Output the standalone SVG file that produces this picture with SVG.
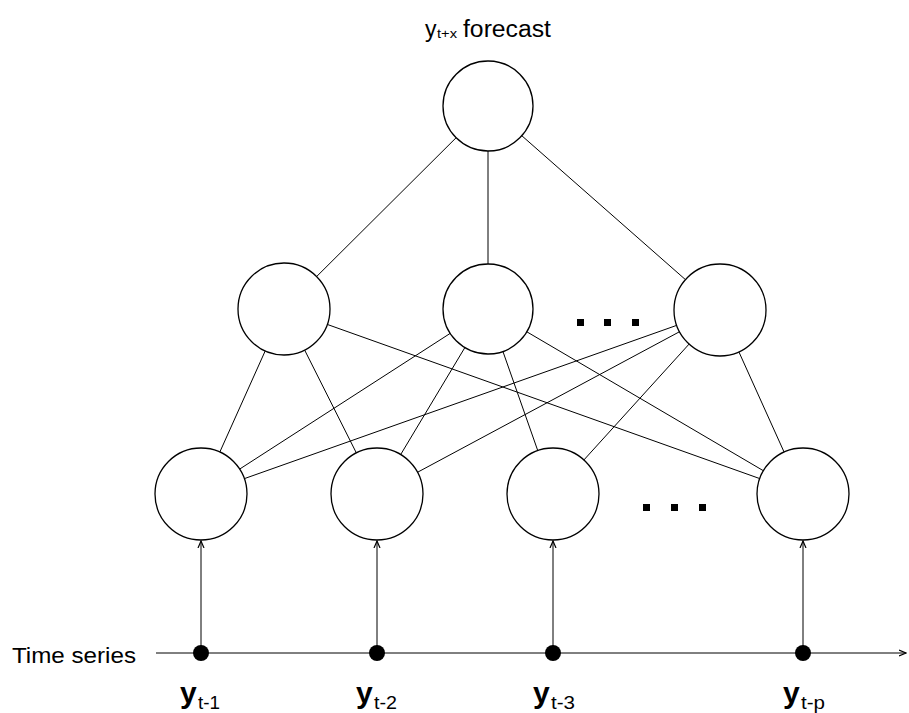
<svg xmlns="http://www.w3.org/2000/svg" width="909" height="713" viewBox="0 0 909 713">
  <style>
    .node { fill: #ffffff; stroke: #000000; stroke-width: 1.3; }
    .edge { stroke: #000000; stroke-width: 1; fill: none; }
    .txt { font-family: "Liberation Sans", Arial, sans-serif; fill: #000000; }
    .dot { fill: #000000; }
  </style>
  <defs>
    <marker id="tip" viewBox="0 0 8 10" refX="7" refY="5" markerWidth="8" markerHeight="10" markerUnits="userSpaceOnUse" orient="auto">
      <path d="M0,2 L7,5 L0,8" fill="none" stroke="#000" stroke-width="1.2"/>
    </marker>
  </defs>
  <rect width="909" height="713" fill="#ffffff"/>

  <!-- connectors: center-to-center lines, hidden by the white node fills -->
  <g id="connectors">
    <line class="edge" x1="488" y1="106" x2="284" y2="309"/>
    <line class="edge" x1="488" y1="106" x2="488" y2="309"/>
    <line class="edge" x1="488" y1="106" x2="720" y2="310"/>

    <line class="edge" x1="284" y1="309" x2="201" y2="494"/>
    <line class="edge" x1="284" y1="309" x2="377" y2="494"/>
    <line class="edge" x1="284" y1="309" x2="803" y2="494"/>

    <line class="edge" x1="488" y1="309" x2="201" y2="494"/>
    <line class="edge" x1="488" y1="309" x2="377" y2="494"/>
    <line class="edge" x1="488" y1="309" x2="553" y2="494"/>
    <line class="edge" x1="488" y1="309" x2="803" y2="494"/>

    <line class="edge" x1="720" y1="310" x2="201" y2="494"/>
    <line class="edge" x1="720" y1="310" x2="377" y2="494"/>
    <line class="edge" x1="720" y1="310" x2="553" y2="494"/>
    <line class="edge" x1="720" y1="310" x2="803" y2="494"/>

    <!-- inputs feeding the first layer -->
    <line class="edge" x1="201" y1="653" x2="201" y2="541" marker-end="url(#tip)"/>
    <line class="edge" x1="377" y1="653" x2="377" y2="541" marker-end="url(#tip)"/>
    <line class="edge" x1="553" y1="653" x2="553" y2="541" marker-end="url(#tip)"/>
    <line class="edge" x1="803" y1="653" x2="803" y2="541" marker-end="url(#tip)"/>

    <!-- time axis -->
    <line class="edge" x1="156" y1="653" x2="906" y2="653" marker-end="url(#tip)"/>
  </g>

  <g id="output">
    <circle class="node" cx="488" cy="106" r="45"/>
    <text class="txt" x="425" y="37" font-size="23">y</text>
    <text class="txt" x="437" y="38" font-size="13" textLength="20" lengthAdjust="spacingAndGlyphs">t+x</text>
    <text class="txt" x="463" y="37" font-size="23" textLength="88" lengthAdjust="spacingAndGlyphs">forecast</text>
  </g>

  <g id="hidden-1"><circle class="node" cx="284" cy="309" r="46"/></g>
  <g id="hidden-2"><circle class="node" cx="488" cy="309" r="45"/></g>
  <g id="hidden-3"><circle class="node" cx="720" cy="310" r="46"/></g>
  <g id="hidden-more">
    <rect class="dot" x="577" y="319" width="7" height="7"/>
    <rect class="dot" x="604" y="319" width="7" height="7"/>
    <rect class="dot" x="632" y="319" width="7" height="7"/>
  </g>

  <g id="input-1"><circle class="node" cx="201" cy="494" r="46"/></g>
  <g id="input-2"><circle class="node" cx="377" cy="494" r="46"/></g>
  <g id="input-3"><circle class="node" cx="553" cy="494" r="46"/></g>
  <g id="input-p"><circle class="node" cx="803" cy="494" r="46"/></g>
  <g id="input-more">
    <rect class="dot" x="643" y="504" width="7" height="7"/>
    <rect class="dot" x="671" y="504" width="7" height="7"/>
    <rect class="dot" x="699" y="504" width="7" height="7"/>
  </g>

  <g id="time-series">
    <text class="txt" x="12" y="663" font-size="22" textLength="124" lengthAdjust="spacingAndGlyphs">Time series</text>
    <circle class="dot" cx="201" cy="653" r="8"/>
    <circle class="dot" cx="377" cy="653" r="8"/>
    <circle class="dot" cx="553" cy="653" r="8"/>
    <circle class="dot" cx="803" cy="653" r="8"/>

    <text class="txt" x="180" y="703" font-size="30" font-weight="bold">y</text>
    <text class="txt" x="198" y="709" font-size="19" textLength="22" lengthAdjust="spacingAndGlyphs">t-1</text>
    <text class="txt" x="356" y="703" font-size="30" font-weight="bold">y</text>
    <text class="txt" x="374" y="709" font-size="19" textLength="23" lengthAdjust="spacingAndGlyphs">t-2</text>
    <text class="txt" x="533" y="703" font-size="30" font-weight="bold">y</text>
    <text class="txt" x="551" y="709" font-size="19" textLength="24" lengthAdjust="spacingAndGlyphs">t-3</text>
    <text class="txt" x="783" y="703" font-size="30" font-weight="bold">y</text>
    <text class="txt" x="801" y="709" font-size="19" textLength="24" lengthAdjust="spacingAndGlyphs">t-p</text>
  </g>
</svg>
